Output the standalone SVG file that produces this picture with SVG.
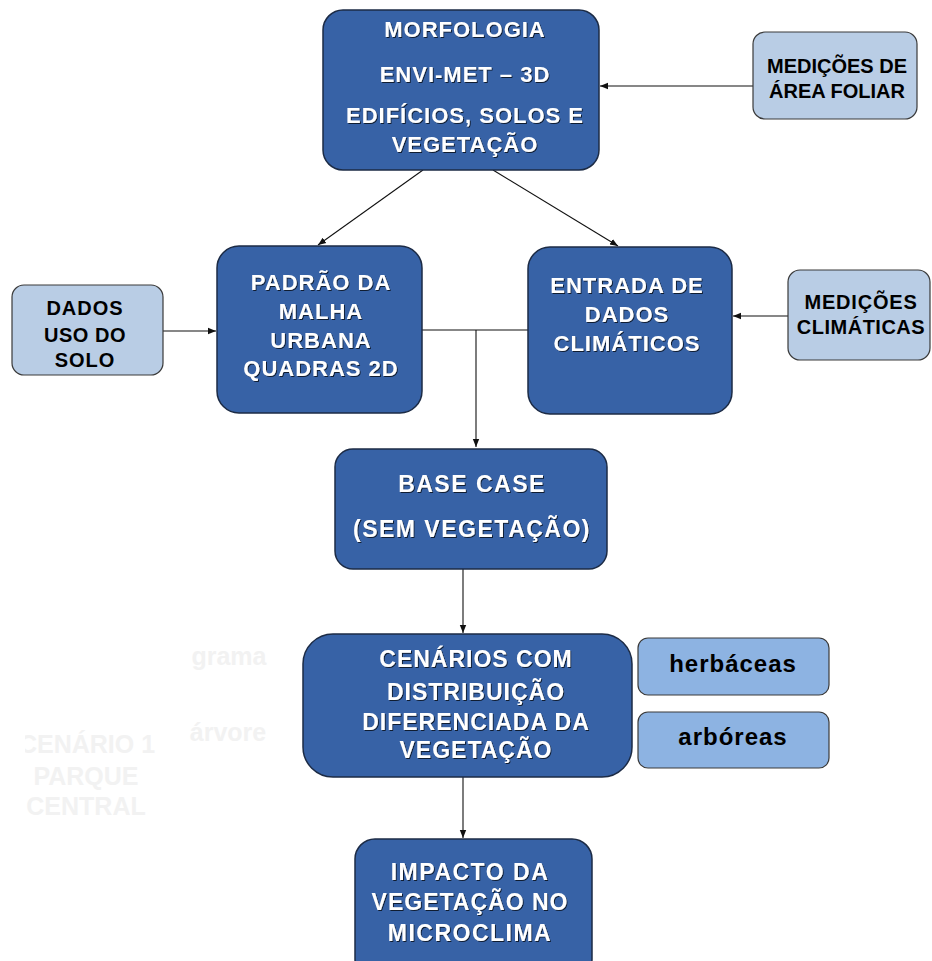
<svg xmlns="http://www.w3.org/2000/svg" width="932" height="961" viewBox="0 0 932 961">
<defs>
  <marker id="arr" viewBox="0 0 10 10" refX="10" refY="5" markerWidth="8" markerHeight="8" markerUnits="userSpaceOnUse" orient="auto">
    <path d="M0,1 L10,5 L0,9 z" fill="#111"/>
  </marker>
  <filter id="ts" x="-10%" y="-30%" width="120%" height="160%">
    <feDropShadow dx="1" dy="1" stdDeviation="0.6" flood-color="#000" flood-opacity="0.7"/>
  </filter>
  <clipPath id="leftclip"><rect x="25" y="0" width="907" height="961"/></clipPath>
</defs>
<style>
  .dark { fill: #3762a6; stroke: #1c2b45; stroke-width: 1.5; }
  .light { fill: #b9cde5; stroke: #3a3a3a; stroke-width: 1.2; }
  .mid { fill: #8db3e2; stroke: #3a3a3a; stroke-width: 1.2; }
  .wt { font-family: "Liberation Sans", Arial, sans-serif; font-weight: bold; fill: #ffffff; text-anchor: middle; filter: url(#ts); }
  .bt { font-family: "Liberation Sans", Arial, sans-serif; font-weight: bold; fill: #000000; text-anchor: middle; }
  .faint { font-family: "Liberation Sans", Arial, sans-serif; font-weight: bold; fill: #f2f2f2; text-anchor: middle; font-size: 25px; }
  .conn line { stroke: #111; stroke-width: 1.1; fill: none; }
</style>
<rect width="932" height="961" fill="#ffffff"/>

<g id="faint-texts">
  <text class="faint" x="229" y="665">grama</text>
  <text class="faint" x="228" y="741">árvore</text>
  <g clip-path="url(#leftclip)">
    <text class="faint" x="87" y="753">CENÁRIO 1</text>
  </g>
  <text class="faint" x="86" y="785">PARQUE</text>
  <text class="faint" x="86" y="815">CENTRAL</text>
</g>

<g class="conn" id="connectors">
  <line x1="753" y1="86" x2="600" y2="86" marker-end="url(#arr)"/>
  <line x1="423" y1="170" x2="318" y2="245" marker-end="url(#arr)"/>
  <line x1="493" y1="170" x2="618" y2="246" marker-end="url(#arr)"/>
  <line x1="163" y1="331" x2="216" y2="331" marker-end="url(#arr)"/>
  <line x1="788" y1="316" x2="733" y2="316" marker-end="url(#arr)"/>
  <line x1="422" y1="330" x2="528" y2="330"/>
  <line x1="476" y1="330" x2="476" y2="447" marker-end="url(#arr)"/>
  <line x1="463" y1="569" x2="463" y2="633" marker-end="url(#arr)"/>
  <line x1="463" y1="777" x2="463" y2="838" marker-end="url(#arr)"/>
</g>

<g id="morfologia">
  <rect class="dark" x="323" y="10" width="276" height="160" rx="20"/>
  <text class="wt" font-size="22" letter-spacing="1" x="465" y="37">MORFOLOGIA</text>
  <text class="wt" font-size="22" letter-spacing="1" x="465" y="82">ENVI-MET – 3D</text>
  <text class="wt" font-size="22" letter-spacing="1" x="465" y="123">EDIFÍCIOS, SOLOS E</text>
  <text class="wt" font-size="22" letter-spacing="1" x="465" y="152">VEGETAÇÃO</text>
</g>

<g id="medicoes-area-foliar">
  <rect class="light" x="753" y="32" width="164" height="87" rx="12"/>
  <text class="bt" font-size="20" x="837" y="73">MEDIÇÕES DE</text>
  <text class="bt" font-size="20" x="837" y="98">ÁREA FOLIAR</text>
</g>

<g id="dados-uso-solo">
  <rect class="light" x="12" y="285" width="151" height="90" rx="12"/>
  <text class="bt" font-size="20" letter-spacing="1" x="85" y="315">DADOS</text>
  <text class="bt" font-size="20" letter-spacing="0.5" x="85" y="342">USO DO</text>
  <text class="bt" font-size="20" letter-spacing="1" x="85" y="367">SOLO</text>
</g>

<g id="padrao-malha">
  <rect class="dark" x="217" y="246" width="205" height="167" rx="22"/>
  <text class="wt" font-size="22" letter-spacing="1" x="321" y="290">PADRÃO DA</text>
  <text class="wt" font-size="22" letter-spacing="1" x="321" y="319">MALHA</text>
  <text class="wt" font-size="22" letter-spacing="1" x="321" y="348">URBANA</text>
  <text class="wt" font-size="22" letter-spacing="1" x="321" y="376">QUADRAS 2D</text>
</g>

<g id="entrada-dados">
  <rect class="dark" x="528" y="247" width="204" height="167" rx="22"/>
  <text class="wt" font-size="22" letter-spacing="1" x="627" y="293">ENTRADA DE</text>
  <text class="wt" font-size="22" letter-spacing="1" x="627" y="322">DADOS</text>
  <text class="wt" font-size="22" letter-spacing="1" x="627" y="351">CLIMÁTICOS</text>
</g>

<g id="medicoes-climaticas">
  <rect class="light" x="788" y="270" width="142" height="90" rx="12"/>
  <text class="bt" font-size="20" letter-spacing="0.8" x="861" y="309">MEDIÇÕES</text>
  <text class="bt" font-size="20" letter-spacing="0.5" x="861" y="334">CLIMÁTICAS</text>
</g>

<g id="base-case">
  <rect class="dark" x="335" y="449" width="272" height="120" rx="18"/>
  <text class="wt" font-size="23" letter-spacing="1.5" x="472" y="492">BASE CASE</text>
  <text class="wt" font-size="23" letter-spacing="1.5" x="472" y="537">(SEM VEGETAÇÃO)</text>
</g>

<g id="cenarios">
  <rect class="dark" x="303" y="634" width="329" height="143" rx="30"/>
  <text class="wt" font-size="23" letter-spacing="1" x="476" y="667">CENÁRIOS COM</text>
  <text class="wt" font-size="23" letter-spacing="1" x="476" y="700">DISTRIBUIÇÃO</text>
  <text class="wt" font-size="23" letter-spacing="1" x="476" y="730">DIFERENCIADA DA</text>
  <text class="wt" font-size="23" letter-spacing="1" x="476" y="758">VEGETAÇÃO</text>
</g>

<g id="herbaceas">
  <rect class="mid" x="638" y="638" width="191" height="57" rx="10"/>
  <text class="bt" font-size="24" letter-spacing="1" x="733" y="672">herbáceas</text>
</g>

<g id="arboreas">
  <rect class="mid" x="638" y="712" width="191" height="56" rx="10"/>
  <text class="bt" font-size="24" letter-spacing="1" x="733" y="745">arbóreas</text>
</g>

<g id="impacto">
  <rect class="dark" x="355" y="839" width="237" height="140" rx="20"/>
  <text class="wt" font-size="23" letter-spacing="1.5" x="470" y="880">IMPACTO DA</text>
  <text class="wt" font-size="23" letter-spacing="1" x="470" y="910">VEGETAÇÃO NO</text>
  <text class="wt" font-size="23" letter-spacing="1.5" x="470" y="941">MICROCLIMA</text>
</g>
</svg>
